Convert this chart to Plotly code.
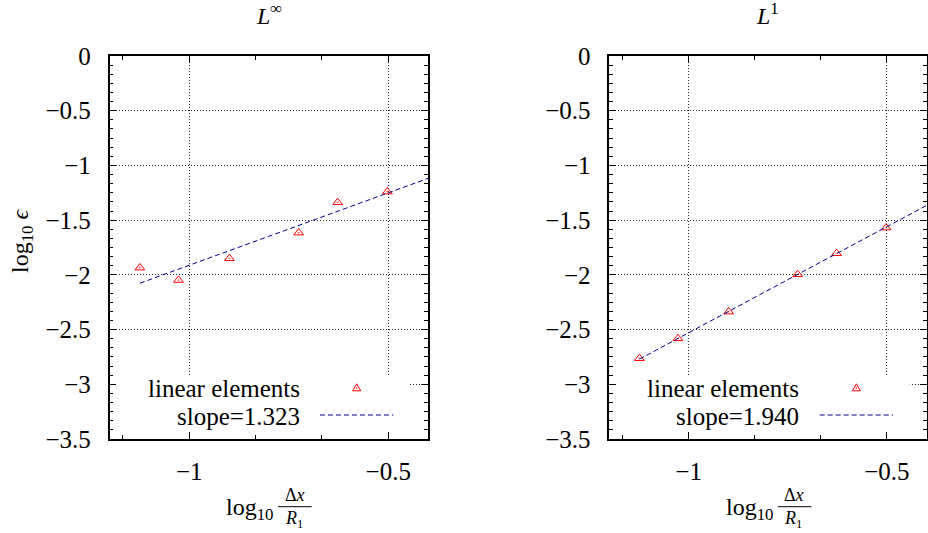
import numpy as np
import plotly.graph_objects as go

# Convergence data: log10 of the mesh spacing and the log10 errors
log_dx = [-1.124, -1.027, -0.899, -0.725, -0.627, -0.502]
err_linf = [-1.935, -2.048, -1.849, -1.615, -1.337, -1.240]
err_l1 = [-2.763, -2.581, -2.337, -1.996, -1.804, -1.569]
slopes = [1.323, 1.940]
panel_titles = ["<i>L</i><sup>∞</sup>", "<i>L</i><sup>1</sup>"]
series_label = "linear elements"

X_RANGE = [-1.2, -0.4]
Y_RANGE = [-3.5, 0.0]

W, H = 928, 533
FONT = "Liberation Serif"
FS = 25        # tick labels and key text
FS_TITLE = 24  # panel and axis titles
FS_FRAC = 18   # numerator / denominator of the x-axis title

# panel placement in pixels (left, right), shared top and bottom
panels_px = [(109.6, 428.0), (609.3, 926.6)]
top_px, bot_px = 56.0, 439.0

fig = go.Figure()

axis_common = dict(
    showline=True, linecolor="black", linewidth=1.5, mirror="ticks",
    ticks="inside", ticklen=7, tickwidth=1, tickcolor="black",
    showgrid=True, gridcolor="#222", gridwidth=1, griddash="1px,2px",
    zeroline=False, automargin=False,
    tickfont=dict(family=FONT, size=FS, color="black"),
)

layout = dict(
    template="none",
    width=W, height=H, margin=dict(l=0, r=0, t=0, b=0, pad=0),
    paper_bgcolor="white", plot_bgcolor="white", showlegend=False,
    font=dict(family=FONT, size=FS, color="black"),
)

shapes = []
annotations = []

for i, (errs, slope, title) in enumerate(zip([err_linf, err_l1], slopes, panel_titles)):
    n = "" if i == 0 else str(i + 1)
    xa, ya = "x" + n, "y" + n
    left, right = panels_px[i]
    xdom = [left / W, right / W]
    ydom = [1 - bot_px / H, 1 - top_px / H]

    layout["xaxis" + n] = dict(
        axis_common, domain=xdom, range=X_RANGE, dtick=0.5, tick0=0,
        anchor=ya, ticklabelstandoff=9,
        minor=dict(ticks="inside", ticklen=4, tickwidth=1, tickcolor="black",
                   dtick=1 / 6, tick0=0, showgrid=False),
    )
    layout["yaxis" + n] = dict(
        axis_common, domain=ydom, range=Y_RANGE, dtick=0.5, tick0=0,
        anchor=xa, ticklabelstandoff=12,
        minor=dict(ticks="inside", ticklen=4, tickwidth=1, tickcolor="black",
                   dtick=0.5 / 6, tick0=0, showgrid=False),
    )

    # least-squares intercept for the quoted slope
    xs = np.array(log_dx)
    ys = np.array(errs)
    intercept = ys.mean() - slope * xs.mean()
    fit_x = np.array([xs.min(), X_RANGE[1]])
    fit_y = slope * fit_x + intercept

    fig.add_trace(go.Scatter(
        x=log_dx, y=errs, mode="markers", xaxis=xa, yaxis=ya,
        marker=dict(symbol="triangle-up-open-dot", size=8.5, color="red",
                    line=dict(width=1, color="red")),
        name=series_label, cliponaxis=False,
    ))
    fig.add_trace(go.Scatter(
        x=fit_x, y=fit_y, mode="lines", xaxis=xa, yaxis=ya,
        line=dict(color="#00008b", width=1, dash="5px,3px"),
        name="slope=%.3f" % slope,
    ))

    xd, yd = xa + " domain", ya + " domain"
    pw = right - left
    ph = bot_px - top_px

    # pixel -> axis value helpers for placing the key
    def vx(px):
        return X_RANGE[0] + (px - left) / pw * (X_RANGE[1] - X_RANGE[0])

    def vy(py):
        return Y_RANGE[0] + (bot_px - py) / ph * (Y_RANGE[1] - Y_RANGE[0])

    def dx(px):
        return (px - left) / pw

    def dy(py):
        return (bot_px - py) / ph

    # key background (hides the grid behind the key)
    shapes.append(dict(type="rect", xref=xa, yref=ya, layer="between",
                       x0=vx(left + 1), x1=vx(left + 300.4),
                       y0=vy(bot_px - 2), y1=vy(375),
                       fillcolor="white", line=dict(width=0)))
    # key entries
    annotations.append(dict(xref=xd, yref=yd, x=dx(left + 192.1), y=dy(388),
                            xanchor="right", yanchor="middle", showarrow=False,
                            text=series_label, font=dict(family=FONT, size=FS)))
    annotations.append(dict(xref=xd, yref=yd, x=dx(left + 192.1), y=dy(416),
                            xanchor="right", yanchor="middle", showarrow=False,
                            text="slope=%.3f" % slope, font=dict(family=FONT, size=FS)))
    shapes.append(dict(type="line", xref=xa, yref=ya,
                       x0=vx(left + 210.4), x1=vx(left + 283.7),
                       y0=vy(415), y1=vy(415),
                       line=dict(color="#00008b", width=1, dash="5px,3px")))
    mx, my = vx(left + 247.1), vy(388.3)
    shapes.append(dict(type="path", xref=xa, yref=ya, xsizemode="pixel",
                       ysizemode="pixel", xanchor=mx, yanchor=my,
                       path="M -4,-2.5 L 4,-2.5 L 0,4.5 Z",
                       line=dict(color="red", width=1)))
    shapes.append(dict(type="circle", xref=xa, yref=ya, xsizemode="pixel",
                       ysizemode="pixel", xanchor=mx, yanchor=my,
                       x0=-0.8, x1=0.8, y0=-0.8, y1=0.8,
                       fillcolor="red", line=dict(width=0)))

    # panel title
    annotations.append(dict(xref="paper", yref="paper", x=(left + right) / 2 / W,
                            y=1 - 14 / H, xanchor="center", yanchor="middle",
                            showarrow=False, text=title,
                            font=dict(family=FONT, size=FS_TITLE)))

    # x-axis title: log10 (Δx / R1) as a stacked fraction
    bar_y = 506.7
    annotations.append(dict(xref="paper", yref="paper", x=(left + 165.5) / W,
                            y=1 - 509 / H, xanchor="right", yanchor="middle",
                            showarrow=False, text="log<sub>10</sub>",
                            font=dict(family=FONT, size=FS_TITLE)))
    annotations.append(dict(xref="paper", yref="paper", x=(left + 185) / W,
                            y=1 - (bar_y - 0.5) / H, xanchor="center", yanchor="bottom",
                            showarrow=False, text="Δ<i>x</i>", borderpad=0,
                            font=dict(family=FONT, size=FS_FRAC)))
    annotations.append(dict(xref="paper", yref="paper", x=(left + 184) / W,
                            y=1 - (bar_y + 0.5) / H, xanchor="center", yanchor="top",
                            showarrow=False, text="<i>R</i><sub>1</sub>", borderpad=0,
                            font=dict(family=FONT, size=FS_FRAC)))
    shapes.append(dict(type="line", xref="paper", yref="paper",
                       x0=(left + 168.5) / W, x1=(left + 202) / W,
                       y0=1 - bar_y / H, y1=1 - bar_y / H,
                       line=dict(color="black", width=1)))

# y-axis title on the left panel
annotations.append(dict(xref="paper", yref="paper", x=22 / W, y=1 - 241 / H,
                        xanchor="center", yanchor="middle", textangle=-90,
                        showarrow=False, text="log<sub>10</sub> <i>ϵ</i>",
                        font=dict(family=FONT, size=FS_TITLE)))

layout["shapes"] = shapes
layout["annotations"] = annotations
fig.update_layout(**layout)

fig.write_html("out.html")
